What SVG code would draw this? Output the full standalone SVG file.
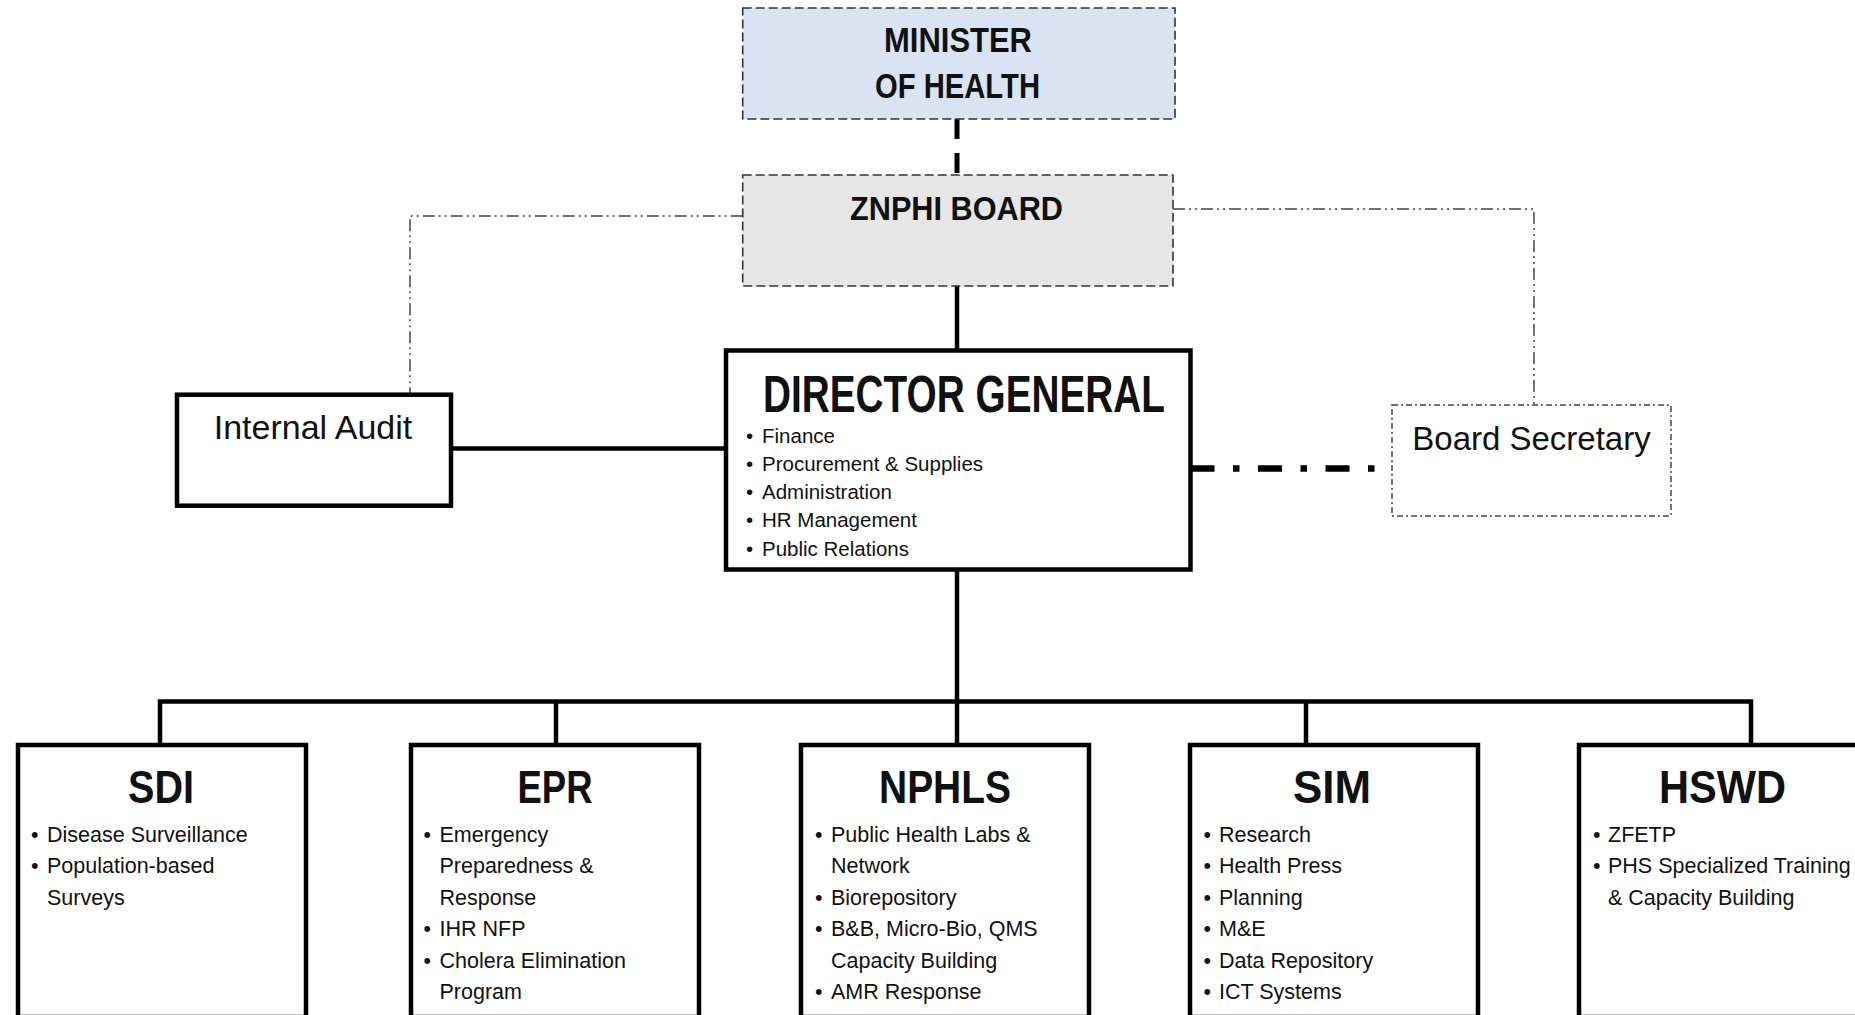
<svg xmlns="http://www.w3.org/2000/svg" width="1855" height="1015" viewBox="0 0 1855 1015">
<style>
text{font-family:"Liberation Sans",Arial,sans-serif;fill:#111}
.t{font-weight:bold}
.box{fill:#fff;stroke:#000;stroke-width:4.5}
.lbl{font-size:34px}
.b1{font-size:20.5px}
.b2{font-size:21.5px}
.solid{fill:none;stroke:#000;stroke-width:4.5}
.thin{fill:none;stroke:#444;stroke-width:1.5;stroke-dasharray:12 4 2 4 2 4}
</style>
<rect width="1855" height="1015" fill="#fff"/>
<g id="connectors">
<path d="M957,119 V175" fill="none" stroke="#000" stroke-width="5" stroke-dasharray="20 14"/>
<path class="solid" d="M957,286 V350.5"/>
<path class="solid" d="M451,448.5 H726"/>
<path class="thin" d="M742.7,216 H410 V394"/>
<path class="thin" d="M1173,209 H1534 V405"/>
<path d="M1190.5,468.5 H1392" fill="none" stroke="#000" stroke-width="6.5" stroke-dasharray="24 18.5 6.5 18.5"/>
<path class="solid" d="M957,569.5 V745"/>
<path class="solid" d="M160,745 V701.5 H1751 V745"/>
<path class="solid" d="M556,701.5 V745"/>
<path class="solid" d="M1306,701.5 V745"/>
</g>
<g id="minister">
<rect x="742.7" y="8" width="432.3" height="111" fill="#dae3f3" stroke="#333" stroke-width="1.6" stroke-dasharray="9 4"/>
<text class="t" x="958" y="52" font-size="35" text-anchor="middle" textLength="148" lengthAdjust="spacingAndGlyphs">MINISTER</text>
<text class="t" x="957.5" y="97.5" font-size="35" text-anchor="middle" textLength="165" lengthAdjust="spacingAndGlyphs">OF HEALTH</text>
</g>
<g id="board">
<rect x="742.7" y="175" width="430.3" height="111" fill="#e7e6e6" stroke="#333" stroke-width="1.6" stroke-dasharray="9 4"/>
<text class="t" x="956.5" y="220" font-size="33" text-anchor="middle" textLength="213" lengthAdjust="spacingAndGlyphs">ZNPHI BOARD</text>
</g>
<g id="internal-audit">
<rect class="box" x="177" y="394.7" width="274" height="111" stroke-width="4"/>
<text class="lbl" x="313" y="438.5" text-anchor="middle">Internal Audit</text>
</g>
<g id="board-secretary">
<rect x="1392" y="405" width="279" height="111" fill="#fff" stroke="#444" stroke-width="1.5" stroke-dasharray="6 3 2 3"/>
<text x="1531.5" y="450" font-size="33" text-anchor="middle">Board Secretary</text>
</g>
<g id="director-general">
<rect class="box" x="726" y="350.5" width="464.5" height="219"/>
<text class="t" x="763" y="412" font-size="51" textLength="402" lengthAdjust="spacingAndGlyphs">DIRECTOR GENERAL</text>
<g class="b1">
<text x="746" y="442.5">•</text><text x="762" y="442.5">Finance</text>
<text x="746" y="470.8">•</text><text x="762" y="470.8">Procurement &amp; Supplies</text>
<text x="746" y="499">•</text><text x="762" y="499">Administration</text>
<text x="746" y="527.3">•</text><text x="762" y="527.3">HR Management</text>
<text x="746" y="555.5">•</text><text x="762" y="555.5">Public Relations</text>
</g>
</g>
<g id="sdi">
<rect class="box" x="18" y="745" width="288" height="272"/>
<text class="t" x="161" y="802.5" font-size="46" text-anchor="middle" textLength="66" lengthAdjust="spacingAndGlyphs">SDI</text>
<g class="b2">
<text x="31" y="841.5">•</text><text x="47" y="841.5">Disease Surveillance</text>
<text x="31" y="873">•</text><text x="47" y="873">Population-based</text>
<text x="47" y="904.5">Surveys</text>
</g>
</g>
<g id="epr">
<rect class="box" x="411" y="745" width="288" height="272"/>
<text class="t" x="555" y="802.5" font-size="46" text-anchor="middle" textLength="75" lengthAdjust="spacingAndGlyphs">EPR</text>
<g class="b2">
<text x="423.5" y="841.5">•</text><text x="439.5" y="841.5">Emergency</text>
<text x="439.5" y="873">Preparedness &amp;</text>
<text x="439.5" y="904.5">Response</text>
<text x="423.5" y="936">•</text><text x="439.5" y="936">IHR NFP</text>
<text x="423.5" y="967.5">•</text><text x="439.5" y="967.5">Cholera Elimination</text>
<text x="439.5" y="999">Program</text>
</g>
</g>
<g id="nphls">
<rect class="box" x="801" y="745" width="288" height="272"/>
<text class="t" x="945" y="802.5" font-size="46" text-anchor="middle" textLength="132" lengthAdjust="spacingAndGlyphs">NPHLS</text>
<g class="b2">
<text x="815" y="841.5">•</text><text x="831" y="841.5">Public Health Labs &amp;</text>
<text x="831" y="873">Network</text>
<text x="815" y="904.5">•</text><text x="831" y="904.5">Biorepository</text>
<text x="815" y="936">•</text><text x="831" y="936">B&amp;B, Micro-Bio, QMS</text>
<text x="831" y="967.5">Capacity Building</text>
<text x="815" y="999">•</text><text x="831" y="999">AMR Response</text>
</g>
</g>
<g id="sim">
<rect class="box" x="1190" y="745" width="288" height="272"/>
<text class="t" x="1332" y="802.5" font-size="46" text-anchor="middle" textLength="78" lengthAdjust="spacingAndGlyphs">SIM</text>
<g class="b2">
<text x="1203.5" y="841.5">•</text><text x="1219" y="841.5">Research</text>
<text x="1203.5" y="873">•</text><text x="1219" y="873">Health Press</text>
<text x="1203.5" y="904.5">•</text><text x="1219" y="904.5">Planning</text>
<text x="1203.5" y="936">•</text><text x="1219" y="936">M&amp;E</text>
<text x="1203.5" y="967.5">•</text><text x="1219" y="967.5">Data Repository</text>
<text x="1203.5" y="999">•</text><text x="1219" y="999">ICT Systems</text>
</g>
</g>
<g id="hswd">
<rect class="box" x="1579" y="745" width="290" height="272"/>
<text class="t" x="1722.5" y="802.5" font-size="46" text-anchor="middle" textLength="127" lengthAdjust="spacingAndGlyphs">HSWD</text>
<g class="b2">
<text x="1593" y="841.5">•</text><text x="1608" y="841.5">ZFETP</text>
<text x="1593" y="873">•</text><text x="1608" y="873">PHS Specialized Training</text>
<text x="1608" y="904.5">&amp; Capacity Building</text>
</g>
</g>
</svg>
